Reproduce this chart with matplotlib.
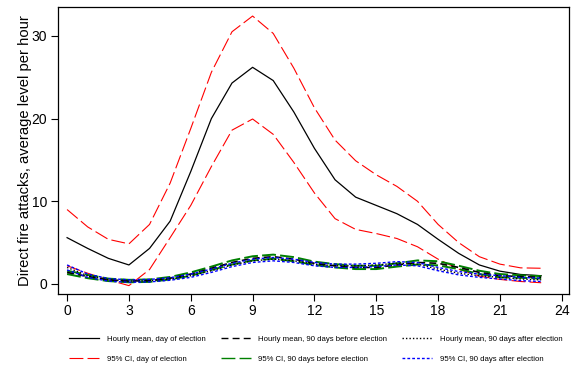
import matplotlib
matplotlib.use("Agg")
import matplotlib.pyplot as plt
from matplotlib.lines import Line2D

plt.rcParams['font.family'] = ['Liberation Sans', 'DejaVu Sans']
plt.rcParams['lines.scale_dashes'] = False

hours = list(range(24))

day_mean = [5.6, 4.3, 3.1, 2.3, 4.3, 7.6, 13.6, 20.0, 24.3, 26.2, 24.6, 20.8,
            16.4, 12.6, 10.5, 9.5, 8.5, 7.2, 5.4, 3.7, 2.3, 1.55, 1.15, 1.0]
day_hi = [9.0, 6.9, 5.4, 4.85, 7.2, 12.2, 18.8, 25.6, 30.5, 32.4, 30.3, 26.1,
          21.3, 17.4, 14.9, 13.2, 11.8, 10.0, 7.2, 5.0, 3.3, 2.4, 1.95, 1.9]
day_lo = [2.2, 1.3, 0.5, -0.2, 1.75, 5.6, 9.5, 14.2, 18.6, 19.95, 18.1, 14.7,
          11.0, 7.9, 6.6, 6.1, 5.5, 4.5, 3.0, 1.8, 0.95, 0.55, 0.3, 0.15]

before_mean = [1.4, 0.9, 0.5, 0.35, 0.4, 0.7, 1.2, 1.9, 2.6, 3.1, 3.3, 3.0,
               2.5, 2.2, 2.0, 2.0, 2.3, 2.6, 2.5, 2.0, 1.4, 1.0, 0.9, 0.8]
before_hi = [1.6, 1.1, 0.65, 0.5, 0.55, 0.85, 1.4, 2.1, 2.85, 3.35, 3.55, 3.25,
             2.7, 2.4, 2.2, 2.2, 2.5, 2.85, 2.75, 2.2, 1.6, 1.2, 1.05, 0.95]
before_lo = [1.2, 0.7, 0.35, 0.2, 0.25, 0.55, 1.0, 1.7, 2.35, 2.85, 3.05, 2.75,
             2.3, 2.0, 1.8, 1.8, 2.1, 2.35, 2.25, 1.8, 1.2, 0.8, 0.75, 0.65]

after_mean = [2.0, 1.0, 0.5, 0.35, 0.4, 0.6, 1.0, 1.6, 2.3, 2.8, 3.0, 2.8,
              2.4, 2.2, 2.2, 2.3, 2.5, 2.4, 1.8, 1.3, 1.0, 0.8, 0.6, 0.5]
after_hi = [2.3, 1.2, 0.65, 0.5, 0.55, 0.75, 1.2, 1.8, 2.5, 3.0, 3.2, 3.0,
            2.6, 2.4, 2.4, 2.5, 2.7, 2.6, 2.0, 1.5, 1.2, 1.0, 0.8, 0.7]
after_lo = [1.7, 0.8, 0.35, 0.2, 0.25, 0.45, 0.8, 1.4, 2.1, 2.6, 2.8, 2.6,
            2.2, 2.0, 2.0, 2.1, 2.3, 2.2, 1.6, 1.1, 0.8, 0.6, 0.4, 0.3]

xticks = [0, 3, 6, 9, 12, 15, 18, 21, 24]
yticks = [0, 10, 20, 30]

labels = ["Hourly mean, day of election", "95% CI, day of election",
          "Hourly mean, 90 days before election", "95% CI, 90 days before election",
          "Hourly mean, 90 days after election", "95% CI, 90 days after election"]

fig = plt.figure(figsize=(5.71, 3.66), dpi=100)
ax = fig.add_axes([0.1016, 0.197, 0.8949, 0.784])

s_mean = dict(color='black', lw=0.9, ls='-')
s_ci = dict(color='red', lw=0.8, ls=(0, (10, 3)))
b_mean = dict(color='black', lw=1.2, ls=(0, (5, 3)))
b_ci = dict(color='green', lw=1.4, ls=(0, (10, 3)))
a_mean = dict(color='black', lw=1.0, ls=(0, (1, 1.5)))
a_ci = dict(color='blue', lw=1.0, ls=(0, (2, 1.5)))

ax.plot(hours, day_mean, **s_mean)
ax.plot(hours, day_hi, **s_ci)
ax.plot(hours, day_lo, **s_ci)
ax.plot(hours, before_hi, **b_ci)
ax.plot(hours, before_lo, **b_ci)
ax.plot(hours, before_mean, **b_mean)
ax.plot(hours, after_mean, **a_mean)
ax.plot(hours, after_hi, **a_ci)
ax.plot(hours, after_lo, **a_ci)

ax.set_xlim(-0.44, 24.35)
ax.set_ylim(-1.2, 33.5)
ax.set_xticks(xticks)
ax.set_yticks(yticks)
ax.tick_params(direction='out', length=5, width=0.8, labelsize=10, colors='black')
ax.tick_params(axis='y', pad=3)
ax.tick_params(axis='x', pad=2.5)
for sp in ax.spines.values():
    sp.set_linewidth(0.9)
ax.set_ylabel("Direct fire attacks, average level per hour", fontsize=10.6)
ax.yaxis.set_label_coords(-0.05, 0.5)

handles = [Line2D([], [], **s_mean), Line2D([], [], **s_ci),
           Line2D([], [], **{**b_mean, 'lw': 1.0}), Line2D([], [], **{**b_ci, 'lw': 1.0}),
           Line2D([], [], **a_mean), Line2D([], [], **a_ci)]
fig.legend(handles, labels, ncol=3, loc='upper left', bbox_to_anchor=(0.121, 0.083),
           frameon=False, fontsize=5.6, handlelength=3.85, handletextpad=1.0,
           columnspacing=1.93, labelspacing=1.55, borderaxespad=0, borderpad=0)

fig.savefig("out.png", dpi=100)
